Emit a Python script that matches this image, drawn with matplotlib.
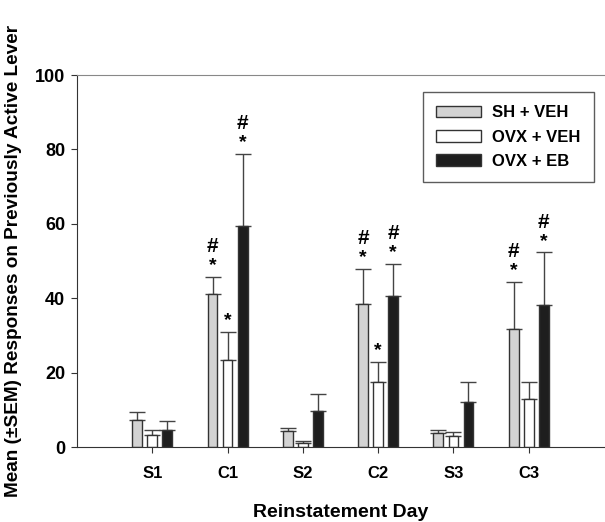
import matplotlib
matplotlib.use("Agg")
import matplotlib.pyplot as plt
import numpy as np

plt.rcParams['font.family'] = ['Liberation Sans', 'DejaVu Sans']
plt.rcParams['font.weight'] = 'bold'

# data
days = ["S1", "C1", "S2", "C2", "S3", "C3"]
groups = ["SH + VEH", "OVX + VEH", "OVX + EB"]
sh_veh = [7.3, 41.0, 4.3, 38.4, 3.7, 31.8]
sh_veh_sem = [2.0, 4.8, 0.9, 9.4, 1.0, 12.6]
ovx_veh = [3.1, 23.5, 1.2, 17.4, 3.0, 12.9]
ovx_veh_sem = [1.6, 7.4, 0.5, 5.4, 1.0, 4.5]
ovx_eb = [4.7, 59.5, 9.7, 40.7, 12.0, 38.2]
ovx_eb_sem = [2.2, 19.3, 4.5, 8.5, 5.4, 14.1]

# significance marks per bar ("" = none)
marks_sh_veh = ["", "#*", "", "#*", "", "#*"]
marks_ovx_veh = ["", "*", "", "*", "", ""]
marks_ovx_eb = ["", "#*", "", "#*", "", "#*"]

means = [sh_veh, ovx_veh, ovx_eb]
sems = [sh_veh_sem, ovx_veh_sem, ovx_eb_sem]
marks = [marks_sh_veh, marks_ovx_veh, marks_ovx_eb]
colors = ['#d3d3d3', 'white', '#1e1e1e']

fig = plt.figure(figsize=(6.05, 5.22), dpi=100)
ax = fig.add_axes([77 / 605, 1 - 447 / 522, 527 / 605, 372 / 522])

x = np.arange(len(days))
width = 0.13
offsets = [-0.2, 0.0, 0.2]

for i in range(3):
    pos = x + offsets[i]
    ax.bar(pos, means[i], width, color=colors[i], edgecolor='#333333',
           linewidth=1.0, label=groups[i], zorder=2)
    ax.errorbar(pos, means[i], yerr=[np.zeros(len(days)), sems[i]], fmt='none',
                ecolor='#444444', elinewidth=1.0, capsize=6, capthick=1.0, zorder=1)
    for j in range(len(days)):
        top = means[i][j] + sems[i][j]
        if '*' in marks[i][j]:
            ax.annotate('*', (pos[j], top), xytext=(0, 2), textcoords='offset points',
                        ha='center', va='bottom', fontsize=14, fontweight='bold')
        if '#' in marks[i][j]:
            ax.annotate('#', (pos[j], top), xytext=(0, 15), textcoords='offset points',
                        ha='center', va='bottom', fontsize=15, fontweight='bold')

ax.set_xlim(-1, 6)
ax.set_ylim(0, 100)
ax.set_xticks(x)
ax.set_xticklabels(days, fontsize=12, fontweight='bold')
ax.set_yticks([0, 20, 40, 60, 80, 100])
ax.set_yticklabels([0, 20, 40, 60, 80, 100], fontsize=13, fontweight='bold')
ax.tick_params(axis='x', length=4.5, pad=9, color='#333333')
ax.tick_params(axis='y', length=4.5, pad=4, color='#333333')

ax.spines['right'].set_visible(False)
ax.spines['top'].set_color('#888888')
ax.spines['left'].set_color('#333333')
ax.spines['bottom'].set_color('#333333')

ax.set_xlabel('Reinstatement Day', fontsize=14, fontweight='bold', labelpad=17)
ax.set_ylabel('Mean (\u00b1SEM) Responses on Previously Active Lever', fontsize=13.7,
              fontweight='bold', labelpad=9)

leg = ax.legend(loc='upper right', bbox_to_anchor=(0.981, 0.954), borderaxespad=0,
                fancybox=False, edgecolor='#333333', fontsize=12, handlelength=2.7,
                handleheight=0.7, borderpad=0.8, labelspacing=0.55, handletextpad=0.65)
leg.get_frame().set_linewidth(1.0)
for t in leg.get_texts():
    t.set_fontweight('bold')

fig.savefig('out.png', dpi=100)
